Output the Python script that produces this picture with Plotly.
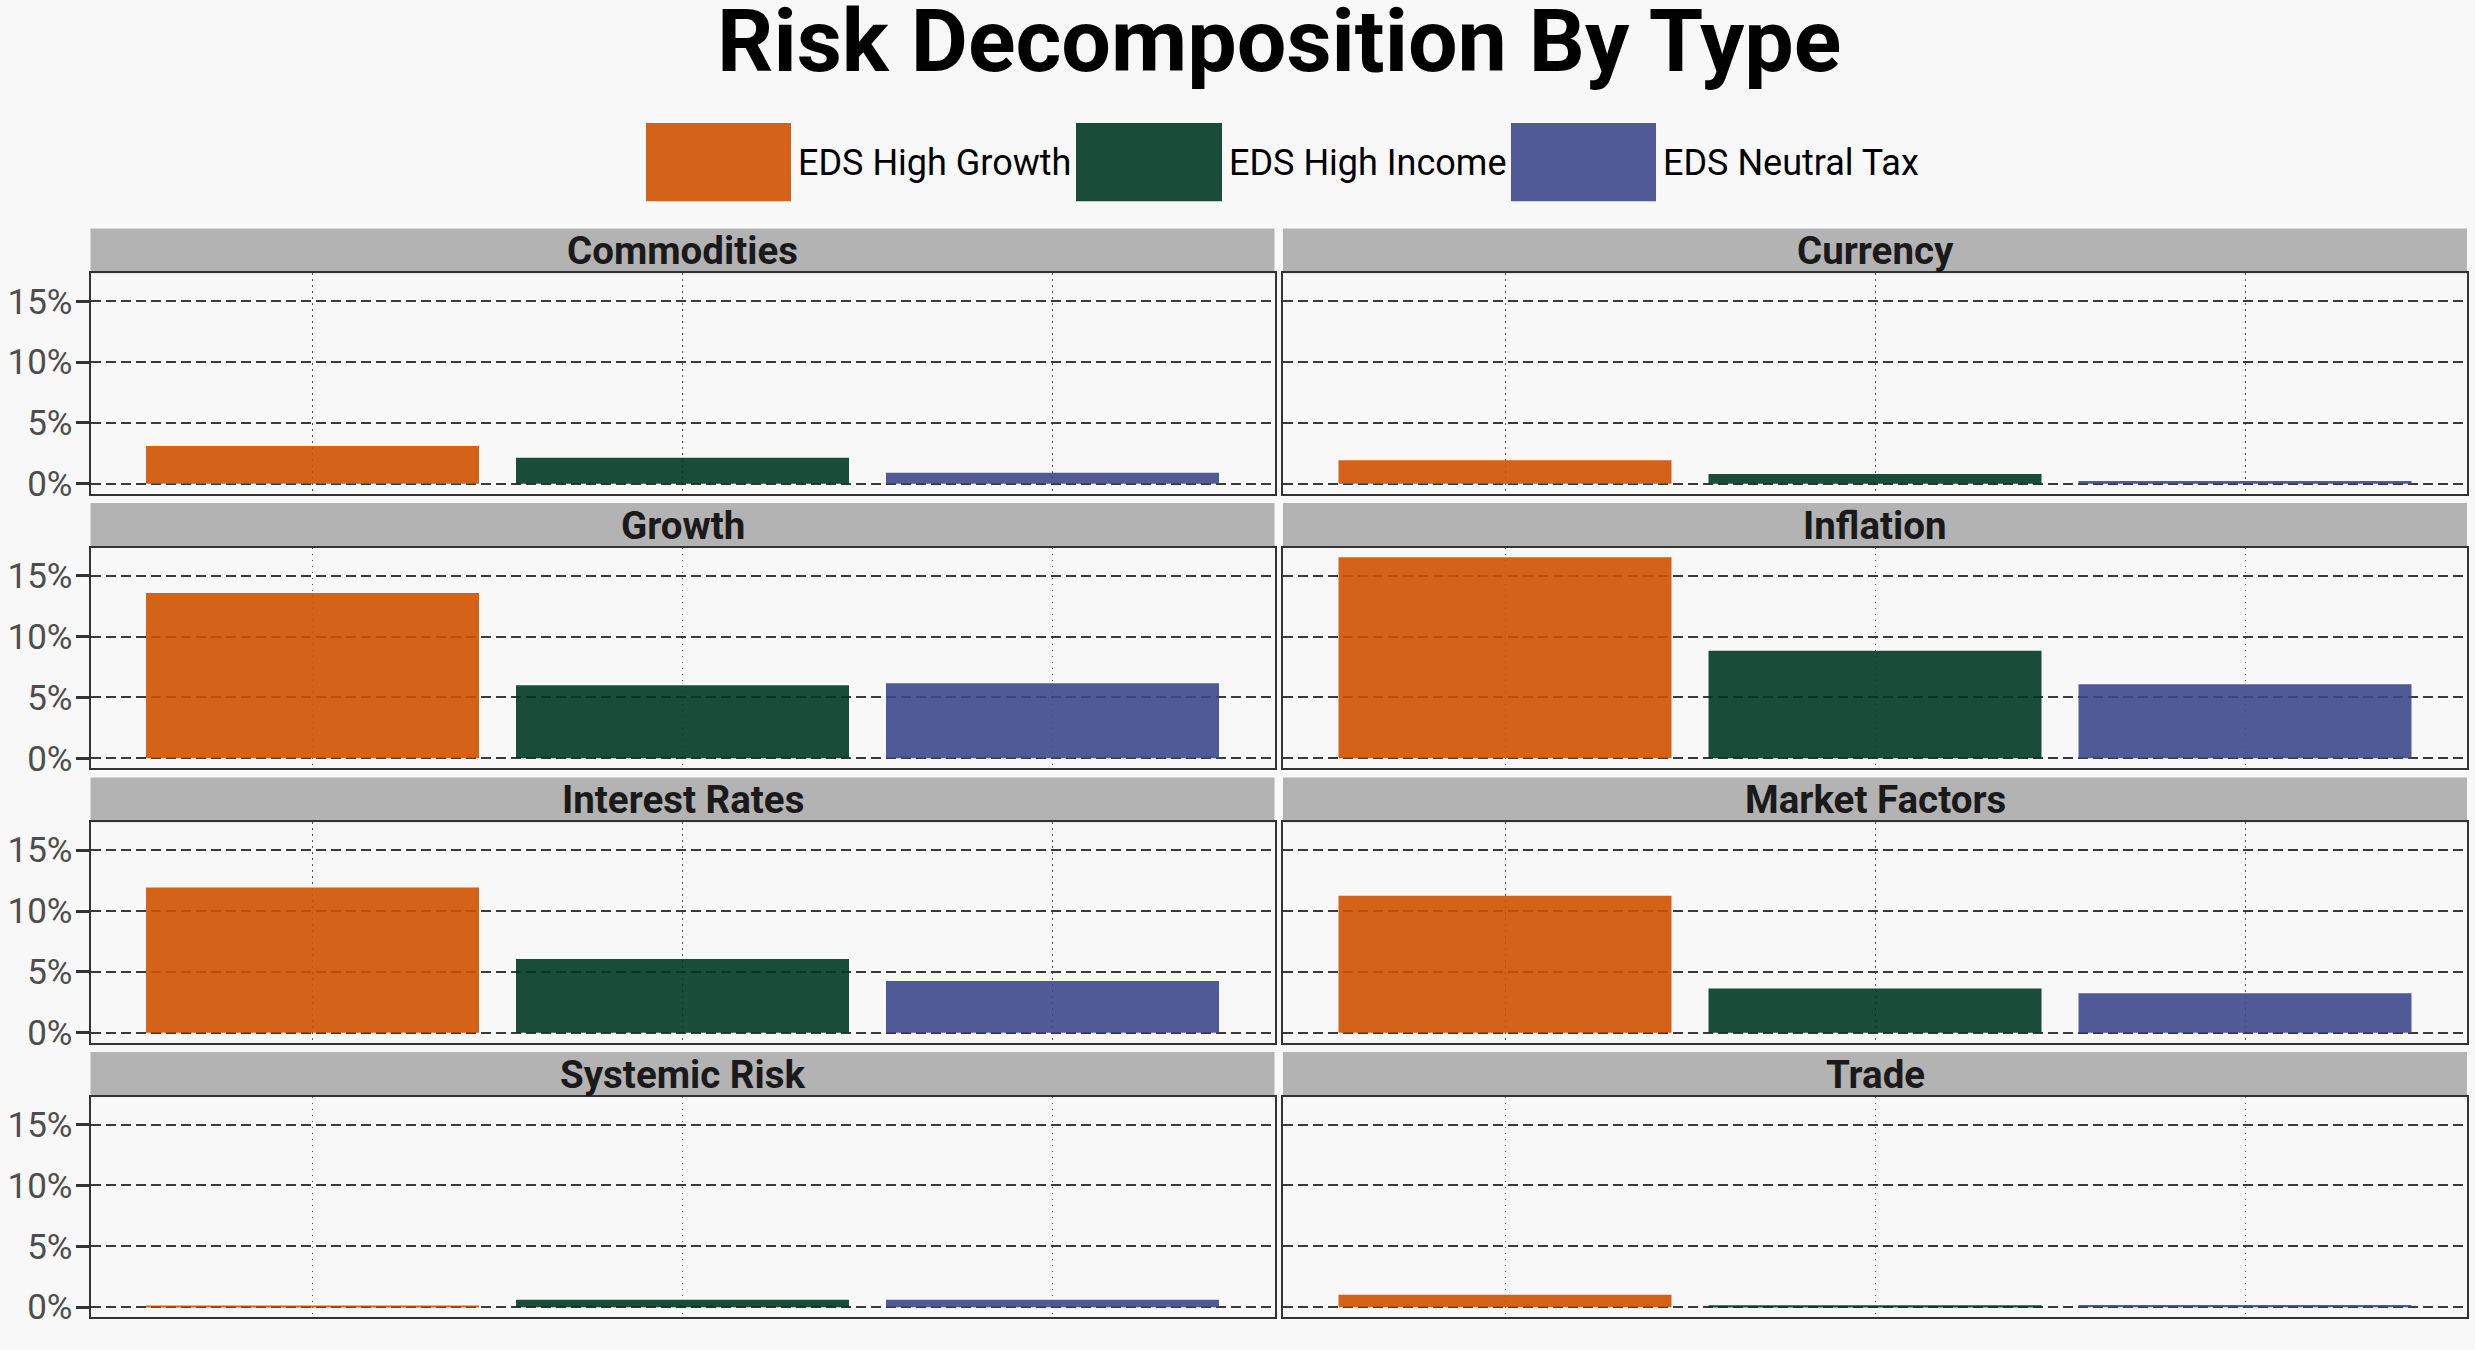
import plotly.graph_objects as go

# ---------------- data ----------------
risk_types = ["Commodities", "Currency", "Growth", "Inflation",
              "Interest Rates", "Market Factors", "Systemic Risk", "Trade"]
portfolios = ["EDS High Growth", "EDS High Income", "EDS Neutral Tax"]
high_growth = [3.12, 1.95, 13.57, 16.52, 11.93, 11.26, 0.08, 1.03]
high_income = [2.14, 0.81, 6.01, 8.83, 6.05, 3.63, 0.62, 0.16]
neutral_tax = [0.92, 0.24, 6.17, 6.09, 4.26, 3.25, 0.62, 0.19]
y_tick_vals = [0, 5, 10, 15]
y_tick_text = ["0%", "5%", "10%", "15%"]
title_text = "Risk Decomposition By Type"

# ---------------- style / layout ----------------
W, H = 2475, 1350
BG = "#F8F8F8"
colors = ["rgb(207,82,0)", "rgb(0,58,36)", "rgb(61,72,139)"]
BAR_OPACITY = 0.9
FONT = "Roboto"

col_x = [(90.5, 1274.5), (1283.0, 2467.0)]
strip_top0, row_step, strip_h, plot_h = 230.5, 276.7, 45.0, 222.4
y_range = [-0.82, 17.3]


def py(px):
    return 1 - px / H


def px_(x):
    return x / W


fig = go.Figure()
layout_axes = {}
shapes = []
annotations = []

series = [high_growth, high_income, neutral_tax]

for i, name in enumerate(risk_types):
    r, c = divmod(i, 2)
    n = i + 1
    xa = "x" if n == 1 else f"x{n}"
    ya = "y" if n == 1 else f"y{n}"
    xkey = "xaxis" if n == 1 else f"xaxis{n}"
    ykey = "yaxis" if n == 1 else f"yaxis{n}"

    st = strip_top0 + r * row_step
    pt = st + strip_h
    pb = pt + plot_h
    x0, x1 = col_x[c]

    vals = [s[i] for s in series]
    fig.add_trace(go.Bar(
        x=portfolios, y=vals, width=0.9,
        marker=dict(color=colors, opacity=BAR_OPACITY, line=dict(width=0)),
        xaxis=xa, yaxis=ya, showlegend=False, hoverinfo="skip",
    ))

    layout_axes[xkey] = dict(
        domain=[px_(x0), px_(x1)], anchor=ya, type="category",
        categoryorder="array", categoryarray=portfolios,
        range=[-0.6, 2.6], showticklabels=False, ticks="",
        showgrid=True, gridcolor="#555555", gridwidth=1, griddash="1.5px,4.5px",
        showline=True, mirror=True, linecolor="#333333", linewidth=2,
        zeroline=False, fixedrange=True,
    )
    layout_axes[ykey] = dict(
        domain=[py(pb), py(pt)], anchor=xa, range=y_range,
        tickvals=y_tick_vals, ticktext=y_tick_text,
        showticklabels=(c == 0), ticks="outside" if c == 0 else "",
        ticklen=13, tickwidth=3, tickcolor="#333333", ticklabelstandoff=-4,
        tickfont=dict(family=FONT, size=35, color="#4D4D4D"),
        showgrid=True, gridcolor="#3A3A3A", gridwidth=2.2, griddash="10px,5px",
        showline=True, mirror=True, linecolor="#333333", linewidth=2,
        zeroline=False, fixedrange=True,
    )

    # facet strip
    shapes.append(dict(type="rect", xref="paper", yref="paper",
                       x0=px_(x0), x1=px_(x1), y0=py(pt), y1=py(st),
                       fillcolor="#B3B3B3", line=dict(width=0), layer="below"))
    annotations.append(dict(text=name, xref="paper", yref="paper",
                            x=px_((x0 + x1) / 2), y=py((st + pt) / 2),
                            xanchor="center", yanchor="middle", showarrow=False,
                            font=dict(family=FONT, size=38.5, color="#1A1A1A",
                                      weight="bold")))

# title
annotations.append(dict(text=title_text, xref="paper", yref="paper",
                        x=px_(1279), y=py(41), xanchor="center", yanchor="middle",
                        showarrow=False,
                        font=dict(family=FONT, size=88, color="#000000",
                                  weight="bold")))

# custom legend
legend_boxes = [(646, 791), (1076, 1222), (1511, 1656)]
for (bx0, bx1), label, col in zip(legend_boxes, portfolios, colors):
    shapes.append(dict(type="rect", xref="paper", yref="paper",
                       x0=px_(bx0), x1=px_(bx1), y0=py(203), y1=py(124),
                       fillcolor=col, opacity=BAR_OPACITY, line=dict(width=0)))
    annotations.append(dict(text=label, xref="paper", yref="paper",
                            x=px_(bx1 + 5), y=py(164), xanchor="left",
                            yanchor="middle", showarrow=False,
                            font=dict(family=FONT, size=36, color="#000000")))

fig.update_layout(
    width=W, height=H, autosize=False,
    margin=dict(l=0, r=0, t=0, b=0, pad=0),
    paper_bgcolor=BG, plot_bgcolor=BG,
    bargap=0.1, barmode="overlay",
    showlegend=False,
    shapes=shapes, annotations=annotations,
    font=dict(family=FONT),
    **layout_axes,
)

post = """
document.documentElement.style.margin='0';
document.documentElement.style.padding='0';
document.documentElement.style.overflow='hidden';
document.body.style.margin='0';
document.body.style.padding='0';
document.body.style.overflow='hidden';
document.body.style.background='#F8F8F8';
"""
fig.write_html("out.html", post_script=post, config={"displayModeBar": False})
